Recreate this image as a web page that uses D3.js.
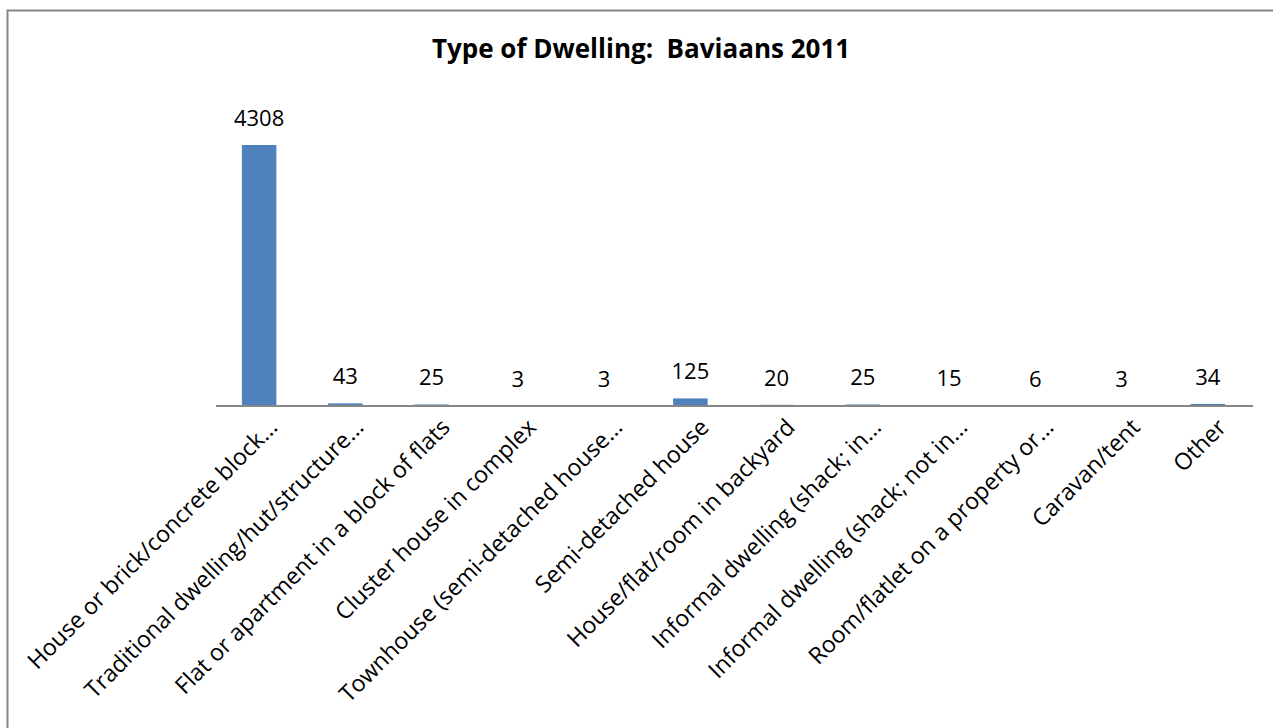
<!DOCTYPE html>
<html>
<head>
<meta charset="utf-8">
<script src="https://cdn.jsdelivr.net/npm/d3@7"></script>
<style>
  body { margin: 0; background: #fff; }
  svg { display: block; }
  text { font-family: "Open Sans", Carlito, Calibri, sans-serif; fill: #000; }
</style>
</head>
<body>
<svg id="chart" width="1273" height="728"></svg>
<script>
const titleText = "Type of Dwelling:  Baviaans 2011";
const categories = [
  "House or brick/concrete block...",
  "Traditional dwelling/hut/structure...",
  "Flat or apartment in a block of flats",
  "Cluster house in complex",
  "Townhouse (semi-detached house...",
  "Semi-detached house",
  "House/flat/room in backyard",
  "Informal dwelling (shack; in...",
  "Informal dwelling (shack; not in...",
  "Room/flatlet on a property or...",
  "Caravan/tent",
  "Other"
];
const values = [4308, 43, 25, 3, 3, 125, 20, 25, 15, 6, 3, 34];

const svg = d3.select("#chart");

svg.append("rect")
  .attr("x", 7.5).attr("y", 10.5)
  .attr("width", 1280).attr("height", 740)
  .attr("fill", "none").attr("stroke", "#868686").attr("stroke-width", 2);

const x = d3.scaleBand().domain(categories).range([216, 1251]).paddingInner(0.6).paddingOuter(0.3);
const y = d3.scaleLinear().domain([0, 4308]).range([406, 145]);

svg.append("text")
  .attr("x", 641).attr("y", 58)
  .attr("text-anchor", "middle")
  .style("font-size", "26px").style("font-weight", "bold")
  .style("white-space", "pre")
  .attr("xml:space", "preserve")
  .text(titleText);

svg.selectAll("rect.bar").data(values).join("rect")
  .attr("class", "bar")
  .attr("x", (d, i) => x(categories[i]))
  .attr("width", x.bandwidth())
  .attr("y", d => y(d))
  .attr("height", d => y(0) - y(d))
  .attr("fill", "#4F81BD");

svg.selectAll("text.val").data(values).join("text")
  .attr("class", "val")
  .attr("x", (d, i) => x(categories[i]) + x.bandwidth() / 2)
  .attr("y", d => y(d) - 19)
  .attr("text-anchor", "middle")
  .style("font-size", "22px")
  .text(d => d);

const axis = d3.axisBottom(x).tickSize(0).tickPadding(0);
const g = svg.append("g").attr("transform", `translate(0,${y(0)})`).call(axis);
g.select(".domain").attr("stroke", "#868686").attr("stroke-width", 2).attr("d", "M216,0H1253");
g.selectAll(".tick text")
  .attr("text-anchor", "end")
  .attr("transform", "translate(14,17) rotate(-45)")
  .attr("dy", "0.35em")
  .attr("y", 0)
  .style("font-size", "23.2px")
  .style("font-family", "'Open Sans', Carlito, Calibri, sans-serif")
  .attr("fill", "#000");
</script>
</body>
</html>
